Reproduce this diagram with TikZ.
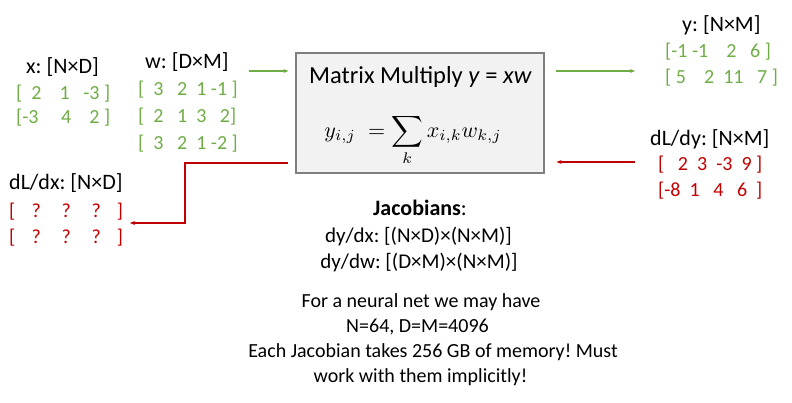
\documentclass[tikz,border=0pt]{standalone}
\usepackage{graphicx}
\usepackage{fontspec}
\setmainfont{Carlito}
\usetikzlibrary{arrows.meta}
\definecolor{grn}{HTML}{70AD47}
\definecolor{rd}{HTML}{C00000}
\definecolor{boxfill}{HTML}{F2F2F2}
\definecolor{boxline}{HTML}{7F7F7F}
\frenchspacing
\tikzset{
  lbl/.style={anchor=base west, inner sep=0pt, font=\fontsize{20}{24}\selectfont},
  hdr/.style={lbl, font=\fontsize{22}{26}\selectfont},
  gm/.style={lbl, text=grn},
  rm/.style={lbl, text=rd},
  ctr/.style={anchor=base, inner sep=0pt, font=\fontsize{20}{24}\selectfont},
  jctr/.style={ctr, font=\fontsize{21}{25}\selectfont},
  mbox/.style={draw=boxline, fill=boxfill, line width=1.2pt, minimum width=248pt, minimum height=120pt, inner sep=0pt},
  garrow/.style={draw=grn, line width=1.3pt, -{Stealth[length=5pt,width=4pt]}},
  rarrow/.style={draw=rd, line width=1.3pt, -{Stealth[length=5pt,width=4pt]}},
}
\begin{document}
\begin{tikzpicture}[x=1pt,y=-1pt]
\useasboundingbox (0,0) rectangle (792,402);
% main box
\node[mbox] (mm) at (420,113) {};
\node[anchor=base, inner sep=0pt, font=\fontsize{24.5}{29}\selectfont] (title) at (420.5,83) {Matrix Multiply \textit{y} = \textit{xw}};
\node[anchor=base, inner sep=0pt] (eq) at (413,137) {\scalebox{2.2}{$\displaystyle y_{i,j}\;=\sum_k x_{i,k}w_{k,j}$}};
% x
\node[hdr] (xl) at (26,73) {x: [N×D]};
\node[gm] (x1) at (16,99) {[~~2~~~~1~~~-3~]};
\node[gm] (x2) at (16,123) {[-3~~~~~4~~~~2~]};
% w
\node[hdr] (wl) at (145,68) {w: [D×M]};
\node[gm] (w1) at (138,95) {[~~3~~~2~~1~-1~]};
\node[gm] (w2) at (138,122) {[~~2~~~1~~3~~~2]};
\node[gm] (w3) at (138,149) {[~~3~~~2~~1~-2~]};
% y
\node[hdr] (yl) at (682,31) {y: [N×M]};
\node[gm] (y1) at (665,57) {[-1~-1~~~~2~~~6~]};
\node[gm] (y2) at (665,83) {[~5~~~~2~~11~~~7~]};
% dL/dy
\node[hdr] (gyl) at (650,145) {dL/dy: [N×M]};
\node[rm] (gy1) at (658,170) {[~~~2~~3~~-3~~9~]};
\node[rm] (gy2) at (658,196) {[-8~~1~~~4~~~6~~]};
% dL/dx
\node[hdr] (gxl) at (9,189) {dL/dx: [N×D]};
\node[rm] (gx1) at (9,217) {[\hspace{16.4pt}?\hspace{20.7pt}?\hspace{20.7pt}?\hspace{16pt}]};
\node[rm] (gx2) at (9,243) {[\hspace{16.4pt}?\hspace{20.7pt}?\hspace{20.7pt}?\hspace{16pt}]};
% Jacobians
\node[ctr, font=\fontsize{22}{26}\selectfont] (jac) at (420,215) {\textbf{Jacobians}:};
\node[jctr] (jx) at (418.5,242) {dy/dx: [(N×D)×(N×M)]};
\node[jctr] (jw) at (419,268) {dy/dw: [(D×M)×(N×M)]};
\node[ctr] (n1) at (421,307) {For a neural net we may have};
\node[ctr] (n2) at (417.5,332) {N=64, D=M=4096};
\node[ctr] (n3) at (433,357) {Each Jacobian takes 256 GB of memory! Must};
\node[ctr] (n4) at (420.5,382) {work with them implicitly!};
% connectors
\coordinate (gin) at (249,71);
\coordinate (gout) at (635,71);
\coordinate (rin) at (635,162);
\coordinate (rend) at (130,223);
\coordinate (rturn) at (185,163);
\draw[garrow] (gin) -- ([xshift=-7pt]mm.west |- gin);
\draw[garrow] ([xshift=11pt]mm.east |- gout) -- (gout);
\draw[rarrow] (rin) -- ([xshift=12pt]mm.east |- rin);
\draw[rarrow] ([xshift=-7pt]mm.west |- rturn) -- (rturn) |- (rend);
\end{tikzpicture}
\end{document}
